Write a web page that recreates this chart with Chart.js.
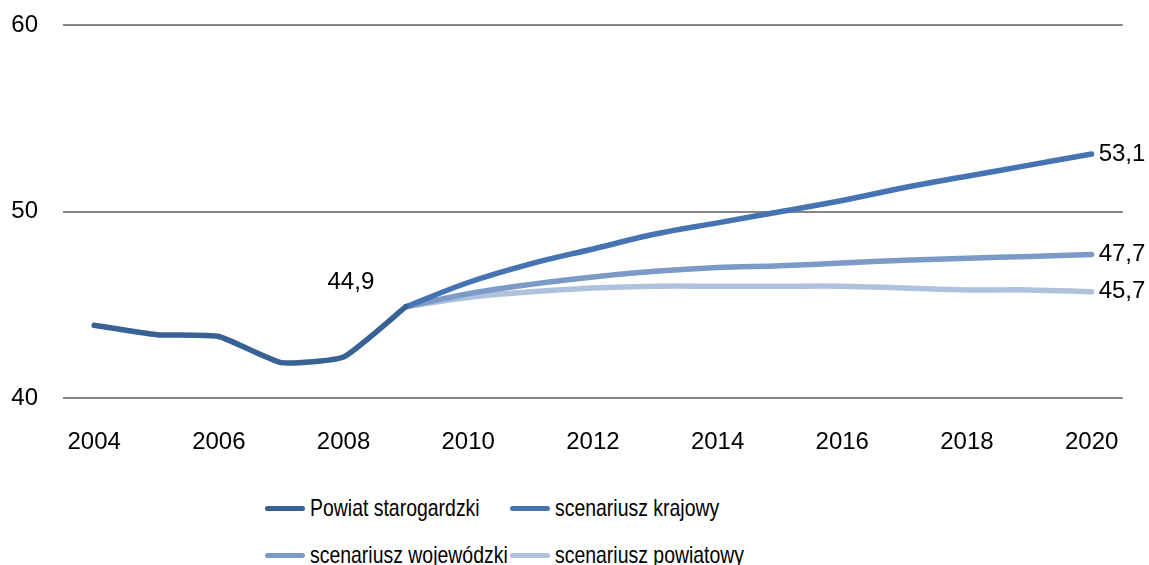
<!DOCTYPE html>
<html lang="pl">
<head>
<meta charset="utf-8">
<title>Powiat starogardzki – scenariusze</title>
<script src="https://cdn.jsdelivr.net/npm/chart.js@4.4.1/dist/chart.umd.min.js"></script>
<style>
  html, body { margin: 0; padding: 0; background: #fff; }
  body { width: 1149px; height: 565px; overflow: hidden; position: relative; }
  #wrap { position: absolute; left: 0; top: -14px; width: 1149px; height: 474px; }
  #legend {
    position: absolute; left: 265px; top: 495px;
    display: grid; grid-template-columns: 245px 260px; row-gap: 21px;
    font-family: "Liberation Sans", sans-serif;
    font-size: 24px; color: #000; line-height: 26px;
  }
  .item { display: flex; align-items: center; white-space: nowrap; min-width: 0; }
  .swatch { flex: 0 0 40px; height: 5px; border-radius: 3px; margin-right: 5px; }
  .label { display: inline-block; transform: scaleX(0.81); transform-origin: left center; }
</style>
</head>
<body>
<div id="wrap"><canvas id="chart"></canvas></div>
<div id="legend"></div>

<script>
  // years on the x axis
  const years = ["2004", "2005", "2006", "2007", "2008", "2009", "2010", "2011", "2012",
                 "2013", "2014", "2015", "2016", "2017", "2018", "2019", "2020"];

  // observed values 2004-2009, then three projections from 2009
  const powiat = [43.9, 43.4, 43.3, 41.9, 42.2, 44.9,
                  null, null, null, null, null, null, null, null, null, null, null];
  const krajowy = [null, null, null, null, null, 44.9,
                   46.2, 47.2, 48.0, 48.8, 49.4, 50.0, 50.6, 51.3, 51.9, 52.5, 53.1];
  const wojewodzki = [null, null, null, null, null, 44.9,
                      45.6, 46.1, 46.5, 46.8, 47.0, 47.1, 47.25, 47.4, 47.5, 47.6, 47.7];
  const powiatowy = [null, null, null, null, null, 44.9,
                     45.4, 45.7, 45.9, 46.0, 46.0, 46.0, 46.0, 45.9, 45.8, 45.8, 45.7];

  const yTicks = [40, 50, 60];

  const seriesNames = ["Powiat starogardzki", "scenariusz krajowy",
                       "scenariusz wojewódzki", "scenariusz powiatowy"];
  const seriesColors = ["#386194", "#4674B2", "#7B9AC8", "#AFC1DD"];
  const seriesData = [powiat, krajowy, wojewodzki, powiatowy];

  const font = "Liberation Sans";

  const fmt = (v) => v.toFixed(1).replace(".", ",");

  // value labels: last observed point (above-left), end of each projection (right)
  const valueLabels = {
    id: "valueLabels",
    afterDatasetsDraw(chart) {
      const ctx = chart.ctx;
      ctx.save();
      ctx.font = "24px " + font;
      ctx.fillStyle = "#000";
      ctx.textBaseline = "middle";
      chart.data.datasets.forEach((ds, i) => {
        const meta = chart.getDatasetMeta(i);
        let last = -1;
        ds.data.forEach((v, j) => { if (v !== null) last = j; });
        const pt = meta.data[last];
        const v = ds.data[last];
        if (i === 0) {
          ctx.textAlign = "center";
          ctx.fillText(fmt(v), pt.x - 55, pt.y - 24);
        } else {
          ctx.textAlign = "left";
          ctx.fillText(fmt(v), pt.x + 7, pt.y);
        }
      });
      ctx.restore();
    }
  };

  new Chart(document.getElementById("chart"), {
    type: "line",
    data: {
      labels: years,
      datasets: seriesData.map((d, i) => ({
        label: seriesNames[i],
        data: d,
        borderColor: seriesColors[i],
        backgroundColor: seriesColors[i],
        borderWidth: 5.5,
        pointRadius: 0,
        tension: i === 0 ? 0.15 : 0.35,
        borderCapStyle: "round",
        borderJoinStyle: "round",
        spanGaps: false,
      })),
    },
    options: {
      responsive: true,
      maintainAspectRatio: false,
      animation: false,
      layout: { padding: { top: 13, right: 23, bottom: 0, left: 0 } },
      plugins: {
        legend: { display: false },
        tooltip: { enabled: false },
      },
      scales: {
        x: {
          offset: true,
          grid: { display: false, drawTicks: false },
          border: { display: false },
          afterFit: (s) => { s.height = 62; },
          ticks: {
            autoSkip: false,
            maxRotation: 0,
            padding: 30,
            color: "#000",
            font: { family: font, size: 24 },
            callback: function (val, idx) {
              return idx % 2 === 0 ? years[idx] : "";
            },
          },
        },
        y: {
          min: yTicks[0],
          max: yTicks[yTicks.length - 1],
          afterFit: (s) => { s.width = 63; },
          afterBuildTicks: (s) => { s.ticks = yTicks.map((v) => ({ value: v })); },
          grid: { color: "#868686", lineWidth: 2, drawTicks: false },
          border: { display: false },
          ticks: {
            padding: 25,
            color: "#000",
            font: { family: font, size: 24 },
          },
        },
      },
    },
    plugins: [valueLabels],
  });

  // legend in two columns
  const legend = document.getElementById("legend");
  seriesNames.forEach((name, i) => {
    const item = document.createElement("div");
    item.className = "item";
    const sw = document.createElement("span");
    sw.className = "swatch";
    sw.style.background = seriesColors[i];
    const txt = document.createElement("span");
    txt.className = "label";
    txt.textContent = name;
    item.appendChild(sw);
    item.appendChild(txt);
    legend.appendChild(item);
  });
</script>
</body>
</html>
